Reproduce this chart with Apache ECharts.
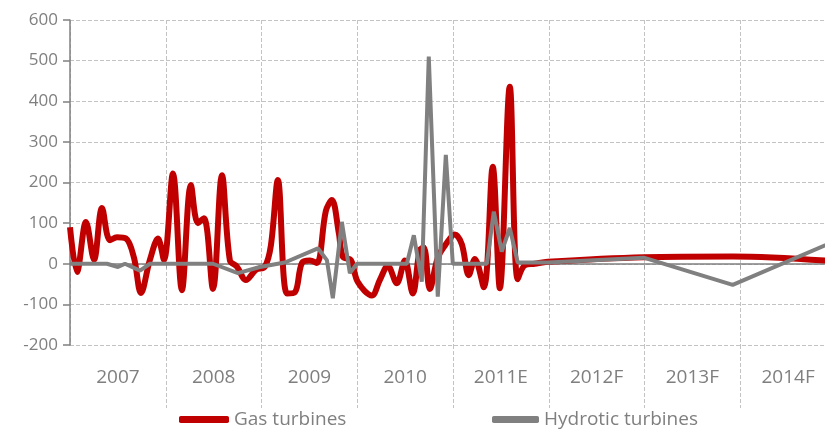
<!DOCTYPE html>
<html>
<head>
<meta charset="utf-8">
<script src="https://cdn.jsdelivr.net/npm/echarts@6/dist/echarts.min.js"></script>
<style>
  html, body { margin: 0; padding: 0; background: #fff; }
  #chart { width: 825px; height: 434px; }
</style>
</head>
<body>
<div id="chart"></div>
<script>
// year bands on the axis
const years = ['2007', '2008', '2009', '2010', '2011E', '2012F', '2013F', '2014F'];

// position in years since start of 2007
const gasX = [0.000, 0.073, 0.167, 0.251, 0.334, 0.418, 0.491, 0.585, 0.668, 0.741, 0.835, 0.919, 0.981,
  1.075, 1.169, 1.263, 1.336, 1.399, 1.493, 1.587, 1.670, 1.743, 1.837, 1.942,
  2.035, 2.098, 2.171, 2.265, 2.349, 2.422, 2.505, 2.578, 2.672, 2.735, 2.808, 2.850, 2.933,
  3.006, 3.152, 3.236, 3.319, 3.413, 3.497, 3.580, 3.653, 3.695, 3.758, 3.841, 3.925,
  4.019, 4.092, 4.165, 4.228, 4.322, 4.415, 4.489, 4.593, 4.676, 4.749, 4.854, 4.990,
  5.992, 6.921, 8.000];
const gasY = [90, -20, 103, 10, 137, 58, 65, 62, 15, -72, 10, 62, 10,
  222, -65, 194, 100, 112, -62, 218, 8, -7, -40, -15,
  -7, 45, 206, -73, -70, 2, 8, 2, 130, 157, 75, 17, 9,
  -45, -78, -40, -5, -48, 8, -73, 34, 40, -62, 15, 48,
  72, 48, -28, 12, -58, 239, -60, 436, -38, -4, 0, 5,
  16, 18, 6];

const hydroX = [0.000, 0.386, 0.501, 0.574, 0.731, 0.835, 1.493, 1.754, 1.983, 2.244, 2.589, 2.683,
  2.745, 2.839, 2.923, 2.996, 3.518, 3.591, 3.674, 3.747, 3.841, 3.925, 3.998,
  4.353, 4.426, 4.509, 4.593, 4.676, 4.990, 5.992, 6.921, 8.000];
const hydroY = [0, 0, -8, 0, -17, 0, 0, -23, -8, 3, 38, 9,
  -85, 103, -23, 0, 0, 70, -44, 510, -81, 268, 0,
  0, 128, 30, 88, 3, 3, 15, -52, 57];

const gasData = gasX.map((x, i) => [x, gasY[i]]);
const hydroData = hydroX.map((x, i) => [x, hydroY[i]]);

const txt = '#7f7f7f';
const gridCol = '#c3c3c3';

const chart = echarts.init(document.getElementById('chart'));
chart.setOption({
  animation: false,
  textStyle: { fontFamily: 'Open Sans' },
  // plot runs past the right edge of the picture, like the original crop
  grid: { left: 70, right: -11, top: 20, bottom: 89, outerBoundsMode: 'none', containLabel: false },
  legend: [
    {
      left: 179, top: 410, padding: 0,
      data: ['Gas turbines'],
      icon: 'roundRect', itemWidth: 50, itemHeight: 7,
      textStyle: { color: txt, fontSize: 19, fontFamily: 'Open Sans' }
    },
    {
      left: 492, top: 410, padding: 0,
      data: ['Hydrotic turbines'],
      icon: 'roundRect', itemWidth: 47, itemHeight: 7,
      textStyle: { color: txt, fontSize: 19, fontFamily: 'Open Sans' }
    }
  ],
  xAxis: [
    {
      type: 'category',
      data: years,
      boundaryGap: true,
      position: 'bottom',
      axisLine: { show: false, onZero: false },
      axisTick: {
        show: true,
        interval: (i) => i > 0,
        length: 63,
        lineStyle: { color: gridCol, type: 'dashed' }
      },
      axisLabel: { color: txt, fontSize: 19, margin: 23, interval: 0 },
      splitLine: { show: true, interval: 0, lineStyle: { color: gridCol, type: 'dashed' } }
    },
    {
      type: 'value',
      min: 0, max: 8, interval: 1,
      position: 'bottom',
      axisLine: { show: true, onZero: true, lineStyle: { color: '#808080', width: 1.5 } },
      axisTick: { show: true, length: 5, lineStyle: { color: '#a0a0a0' } },
      axisLabel: { show: false },
      splitLine: { show: false }
    }
  ],
  yAxis: {
    type: 'value',
    min: -200, max: 600, interval: 100,
    axisLine: { show: true, onZero: false, lineStyle: { color: '#808080', width: 1.5 } },
    axisTick: { show: true, length: 7, lineStyle: { color: '#808080', width: 1.5 } },
    axisLabel: { color: txt, fontSize: 17, margin: 12 },
    splitLine: { show: true, lineStyle: { color: gridCol, type: 'dashed' } }
  },
  series: [
    {
      name: 'Gas turbines',
      type: 'line',
      xAxisIndex: 1,
      data: gasData,
      smooth: 0.35,
      showSymbol: false,
      color: '#c00000',
      lineStyle: { width: 6, color: '#c00000' }
    },
    {
      name: 'Hydrotic turbines',
      type: 'line',
      xAxisIndex: 1,
      data: hydroData,
      showSymbol: false,
      color: '#808080',
      lineStyle: { width: 4, color: '#808080' }
    }
  ]
});
</script>
</body>
</html>
